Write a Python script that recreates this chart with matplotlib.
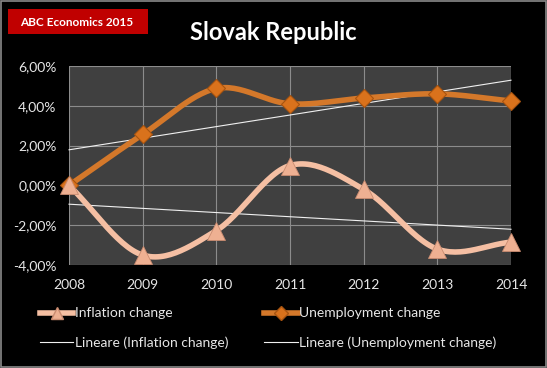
import numpy as np
import matplotlib
matplotlib.use("Agg")
import matplotlib.pyplot as plt
from matplotlib.patches import Rectangle
from matplotlib.lines import Line2D

years = [2008, 2009, 2010, 2011, 2012, 2013, 2014]
inflation = [0.0, -3.5, -2.27, 1.0, -0.2, -3.2, -2.85]
unemployment = [0.0, 2.56, 4.87, 4.1, 4.39, 4.6, 4.24]
yticks = [-4, -2, 0, 2, 4, 6]

plt.rcParams['font.family'] = ['Lato', 'DejaVu Sans']

def smooth(xs, ys, n=30):
    # Catmull-Rom style smoothing of the drawn curve (Excel "smoothed line")
    xs = np.asarray(xs, float); ys = np.asarray(ys, float)
    P = np.column_stack([xs, ys])
    P = np.vstack([P[0] - (P[1] - P[0]), P, P[-1] + (P[-1] - P[-2])])
    out = []
    for i in range(1, len(P) - 2):
        p0, p1, p2, p3 = P[i - 1], P[i], P[i + 1], P[i + 2]
        t = np.linspace(0, 1, n)[:, None]
        seg = 0.5 * ((2 * p1) + (-p0 + p2) * t + (2 * p0 - 5 * p1 + 4 * p2 - p3) * t**2
                     + (-p0 + 3 * p1 - 3 * p2 + p3) * t**3)
        out.append(seg if i == 1 else seg[1:])
    out = np.vstack(out)
    return out[:, 0], out[:, 1]

fig = plt.figure(figsize=(5.47, 3.68), dpi=100, facecolor='black')
fig.patches.append(Rectangle((0.002, 0.003), 0.996, 0.994, transform=fig.transFigure,
                             fill=False, edgecolor='#8a8a8a', linewidth=1.2))

W, H = 547, 368
ax = fig.add_axes([69 / W, 1 - 265 / H, (511 - 69) / W, (265 - 66) / H])
ax.set_facecolor('#404040')
for s in ax.spines.values():
    s.set_visible(False)

ax.set_xlim(2008, 2014)
ax.set_ylim(-4, 6)
ax.set_xticks(years)
ax.set_yticks(yticks)
ax.set_xticklabels([str(y) for y in years])
ax.set_yticklabels([f"{v:.2f}%".replace('.', ',') for v in yticks])
ax.tick_params(colors='#e6e6e6', labelsize=10, length=0)
ax.tick_params(axis='x', pad=10)
ax.tick_params(axis='y', pad=9)
ax.grid(True, color='#8c8c8c', linewidth=0.8)
ax.set_axisbelow(True)

infl_c = '#f5bfa3'
unemp_c = '#d4782a'

# trend lines
x = np.array(years, float)
for ys in (inflation, unemployment):
    k, b = np.polyfit(x, ys, 1)
    ax.plot(x[[0, -1]], k * x[[0, -1]] + b, color='#f0f0f0', lw=0.8, zorder=3, clip_on=False)

sx, sy = smooth(years, unemployment)
ax.plot(sx, sy, color=unemp_c, lw=4, zorder=4, solid_capstyle='round', clip_on=False)
ax.plot(years, unemployment, linestyle='none', marker='D', markersize=9,
        markerfacecolor='#d9721c', markeredgecolor='#a85410', markeredgewidth=0.8, zorder=5, clip_on=False)

sx, sy = smooth(years, inflation)
ax.plot(sx, sy, color=infl_c, lw=4, zorder=4, solid_capstyle='round', clip_on=False)
ax.plot(years, inflation, linestyle='none', marker='^', markersize=13,
        markerfacecolor='#eeb092', markeredgecolor='#c98b70', markeredgewidth=0.6, zorder=5, clip_on=False)

# header
fig.patches.append(Rectangle((8 / W, 1 - 34 / H), 140 / W, 25 / H, transform=fig.transFigure,
                             facecolor='#c00000', edgecolor='none'))
fig.text(77 / W, 1 - 22 / H, 'ABC Economics 2015', color='white', fontsize=8.5,
         fontweight='bold', ha='center', va='center')
fig.text(273 / W, 1 - 33 / H, 'Slovak Republic', color='white', fontsize=17,
         fontweight='bold', ha='center', va='center')

# legend
handles = [
    Line2D([], [], color=infl_c, lw=4, marker='^', markersize=9,
           markerfacecolor='#eeb092', markeredgecolor='#c98b70'),
    Line2D([], [], color='#f0f0f0', lw=0.8),
    Line2D([], [], color=unemp_c, lw=4, marker='D', markersize=7,
           markerfacecolor='#d9721c', markeredgecolor='#a85410'),
    Line2D([], [], color='#f0f0f0', lw=0.8),
]
labels = ['Inflation change', 'Lineare (Inflation change)',
          'Unemployment change', 'Lineare (Unemployment change)']
leg = fig.legend(handles, labels, ncol=2, loc='center', bbox_to_anchor=(268 / W, 1 - 328 / H),
                 frameon=False, fontsize=10, labelcolor='#e6e6e6', handlelength=2.4,
                 handletextpad=0.1, columnspacing=2.6, labelspacing=1.2)

fig.savefig('out.png', dpi=100, facecolor='black')
